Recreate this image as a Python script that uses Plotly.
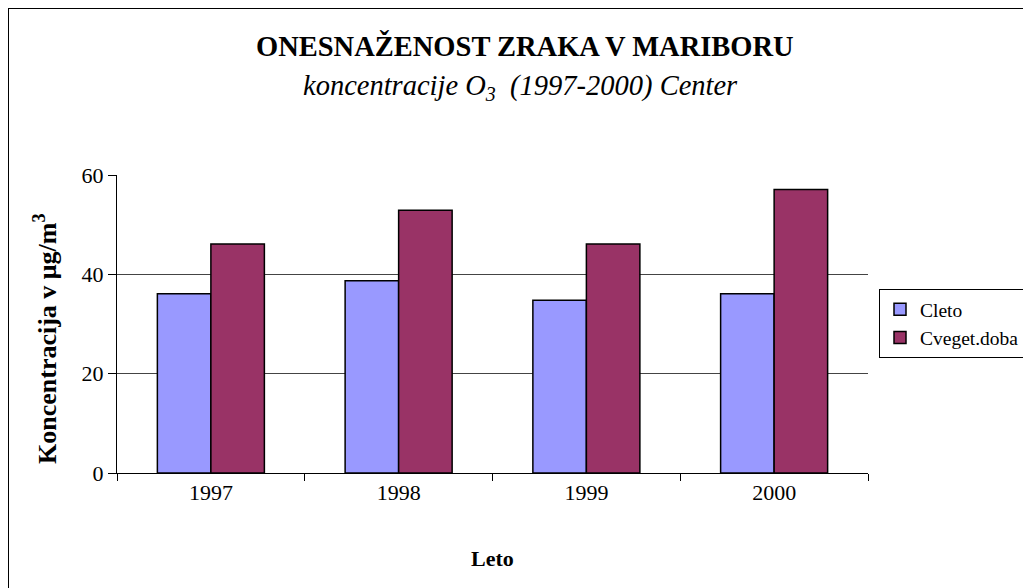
import plotly.graph_objects as go

years = ["1997", "1998", "1999", "2000"]
cleto = [36.1, 38.7, 34.8, 36.1]
cveget = [46.1, 52.9, 46.1, 57.1]
series_names = ["Cleto", "Cveget.doba"]
y_ticks = [0, 20, 40, 60]

FONT = "Liberation Serif, Times New Roman, serif"

fig = go.Figure()
fig.add_trace(go.Bar(x=years, y=cleto, name=series_names[0],
                     marker=dict(color="#9999FF", line=dict(color="black", width=1.5))))
fig.add_trace(go.Bar(x=years, y=cveget, name=series_names[1],
                     marker=dict(color="#993366", line=dict(color="black", width=1.5))))

# page offset: the page body has an 8px margin
OFF = 8
FW, FH = 1031, 588
L, T = 117 - OFF, 175 - OFF
R, B = FW - (868 - OFF), FH - (473 - OFF)
W, H = FW - L - R, FH - T - B

def px_x(p):  # page px -> paper
    return (p - OFF - L) / W

def px_y(p):
    return (FH - B - (p - OFF)) / H

fig.update_layout(
    width=FW, height=FH,
    margin=dict(l=L, r=R, t=T, b=B, autoexpand=False),
    paper_bgcolor="white", plot_bgcolor="white",
    font=dict(family=FONT, color="black", size=22),
    barmode="group", bargap=0.43, bargroupgap=0,
    showlegend=True,
    legend=dict(x=px_x(879), y=px_y(289), xanchor="left", yanchor="top",
                bordercolor="black", borderwidth=1, bgcolor="white",
                font=dict(family=FONT, size=19.5), tracegroupgap=2,
                itemwidth=30),
    xaxis=dict(type="category", showline=True, linecolor="black", linewidth=1,
               ticks="outside", tickson="boundaries", ticklen=7, tickcolor="black",
               tickfont=dict(size=22), showgrid=False,
               title=dict(text="<b>Leto</b>", font=dict(size=22), standoff=46)),
    yaxis=dict(range=[0, 60], tickvals=y_ticks, showline=True, linecolor="black", linewidth=1,
               ticks="outside", ticklen=8, tickcolor="black", tickfont=dict(size=22),
               showgrid=True, gridcolor="#444444", gridwidth=1, zeroline=False),
    annotations=[
        dict(text="<b>ONESNAŽENOST ZRAKA V MARIBORU</b>", xref="paper", yref="paper",
             x=px_x(525), y=px_y(46), xanchor="center", yanchor="middle", showarrow=False,
             font=dict(family=FONT, size=28.5)),
        dict(text="<i>koncentracije O<sub>3</sub>  (1997-2000) Center</i>", xref="paper", yref="paper",
             x=px_x(520), y=px_y(87), xanchor="center", yanchor="middle", showarrow=False,
             font=dict(family=FONT, size=28.5)),
        dict(text="<b>Koncentracija v μg/m<sup>3</sup></b>", xref="paper", yref="paper",
             x=px_x(45), y=px_y(339), xanchor="center", yanchor="middle", showarrow=False,
             textangle=-90, font=dict(family=FONT, size=26)),
    ],
    shapes=[
        dict(type="line", xref="paper", yref="paper", x0=px_x(8), x1=px_x(1045),
             y0=px_y(8), y1=px_y(8), line=dict(color="black", width=2)),
        dict(type="line", xref="paper", yref="paper", x0=px_x(8), x1=px_x(8),
             y0=px_y(8), y1=px_y(610), line=dict(color="black", width=2)),
    ],
)

fig.write_html("out.html")
